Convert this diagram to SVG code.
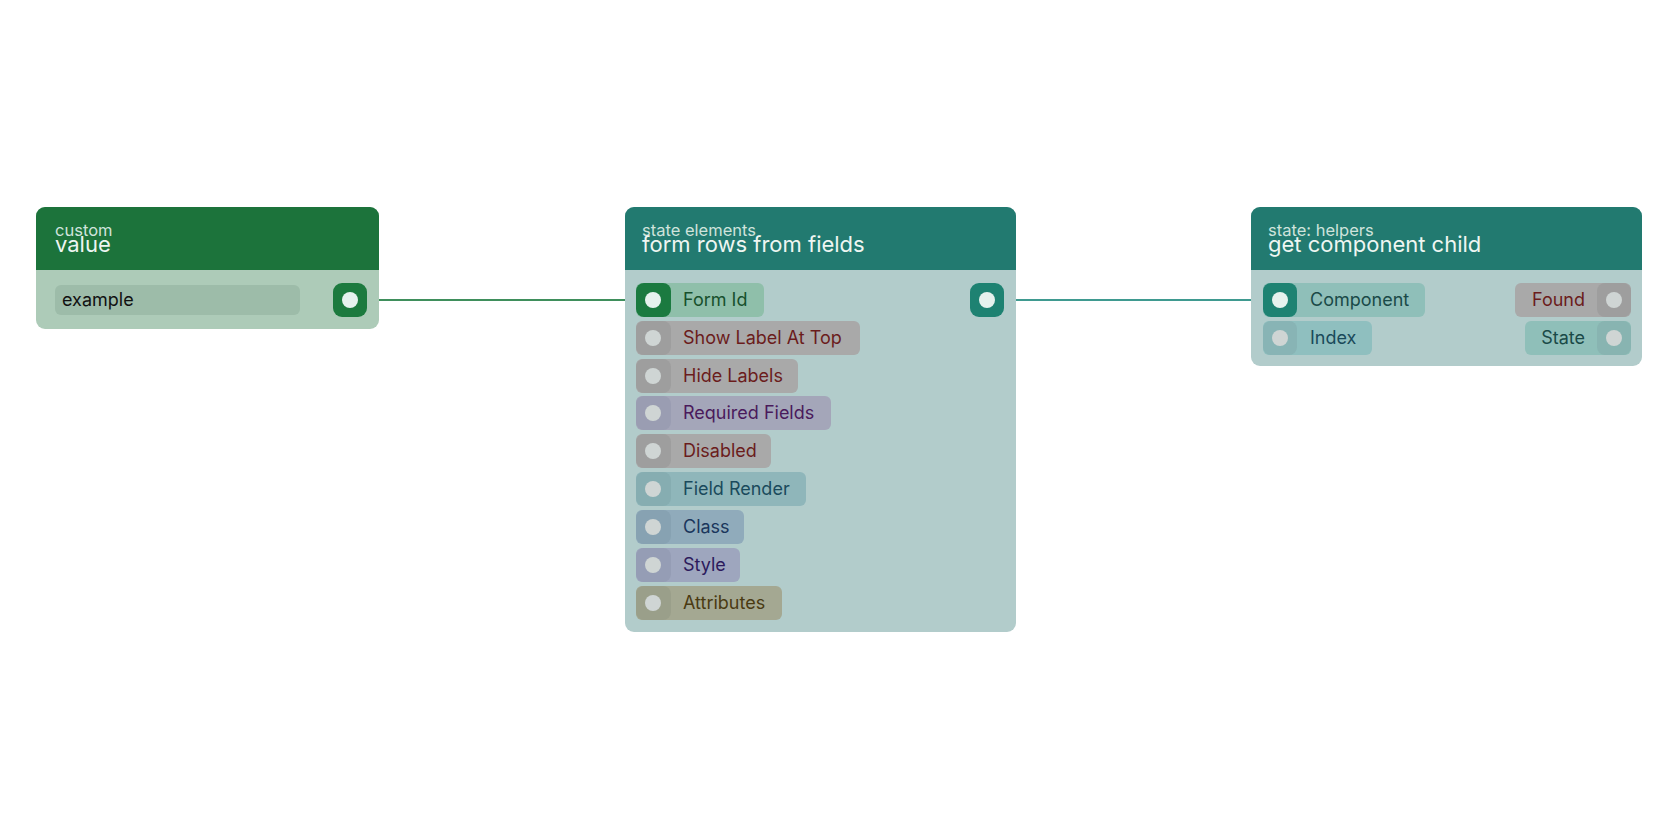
<svg xmlns="http://www.w3.org/2000/svg" width="1680" height="840" viewBox="0 0 1680 840">
<style>
text{font-family:Inter,"Noto Sans",sans-serif}
.cat{font-size:16.5px;fill:#cfe3dc}
.ttl{font-size:22px;fill:#eef6f2}
.lbl{font-size:18px}
.dot{fill:#e6f2ee}
.dim{fill:#cfd5d4}
</style>
<rect width="1680" height="840" fill="#ffffff"/>
<g id="connectors" stroke-width="2" fill="none">
<line x1="367" y1="300" x2="636" y2="300" stroke="#3f8f5c"/>
<line x1="1004" y1="300" x2="1263" y2="300" stroke="#3f9a90"/>
</g>
<g id="node-value">
<rect x="36" y="207" width="343" height="122" rx="9" fill="#adcbb8"/>
<path d="M36 270V216a9 9 0 0 1 9-9h325a9 9 0 0 1 9 9v54z" fill="#1c733b"/>
<text x="55" y="236" class="cat">custom</text>
<text x="55" y="252" class="ttl">value</text>
<rect x="55" y="285" width="245" height="30" rx="6" fill="#9dbca9"/>
<text x="62" y="306" class="lbl" fill="#111">example</text>
<rect x="333" y="283" width="34" height="34" rx="9" fill="#1c7a3e"/>
<circle cx="350" cy="300" r="8" class="dot"/>
</g>
<g id="node-form-rows">
<rect x="625" y="207" width="391" height="425" rx="9" fill="#b2cccb"/>
<path d="M625 270V216a9 9 0 0 1 9-9h373a9 9 0 0 1 9 9v54z" fill="#227a70"/>
<text x="642" y="236" class="cat">state elements</text>
<text x="642" y="252" class="ttl">form rows from fields</text>
<rect x="970" y="283" width="34" height="34" rx="9" fill="#1e8272"/>
<circle cx="987" cy="300" r="8" class="dot"/>
<rect x="636" y="283" width="128" height="34" rx="6" fill="#8fbfaa"/>
<rect x="636" y="283" width="35" height="34" rx="8" fill="#1b7a40"/>
<circle cx="653" cy="300" r="8" class="dot"/>
<text x="683" y="306" class="lbl" fill="#17502c">Form Id</text>
<rect x="636" y="321" width="224" height="34" rx="6" fill="#a9a9a9"/>
<rect x="636" y="321" width="35" height="34" rx="8" fill="#9e9e9e"/>
<circle cx="653" cy="338" r="8" class="dim"/>
<text x="683" y="344" class="lbl" fill="#6b1c1c">Show Label At Top</text>
<rect x="636" y="359" width="162" height="34" rx="6" fill="#a9a9a9"/>
<rect x="636" y="359" width="35" height="34" rx="8" fill="#9e9e9e"/>
<circle cx="653" cy="376" r="8" class="dim"/>
<text x="683" y="382" class="lbl" fill="#6b1c1c">Hide Labels</text>
<rect x="636" y="396" width="195" height="34" rx="6" fill="#a4a6b9"/>
<rect x="636" y="396" width="35" height="34" rx="8" fill="#9a9db2"/>
<circle cx="653" cy="413" r="8" class="dim"/>
<text x="683" y="419" class="lbl" fill="#4a1a5c">Required Fields</text>
<rect x="636" y="434" width="135" height="34" rx="6" fill="#a9a9a9"/>
<rect x="636" y="434" width="35" height="34" rx="8" fill="#9e9e9e"/>
<circle cx="653" cy="451" r="8" class="dim"/>
<text x="683" y="457" class="lbl" fill="#6b1c1c">Disabled</text>
<rect x="636" y="472" width="170" height="34" rx="6" fill="#8fb6ba"/>
<rect x="636" y="472" width="35" height="34" rx="8" fill="#86adb1"/>
<circle cx="653" cy="489" r="8" class="dim"/>
<text x="683" y="495" class="lbl" fill="#1a4a5c">Field Render</text>
<rect x="636" y="510" width="108" height="34" rx="6" fill="#90abbb"/>
<rect x="636" y="510" width="35" height="34" rx="8" fill="#87a2b2"/>
<circle cx="653" cy="527" r="8" class="dim"/>
<text x="683" y="533" class="lbl" fill="#1a365c">Class</text>
<rect x="636" y="548" width="104" height="34" rx="6" fill="#9ea6be"/>
<rect x="636" y="548" width="35" height="34" rx="8" fill="#959db5"/>
<circle cx="653" cy="565" r="8" class="dim"/>
<text x="683" y="571" class="lbl" fill="#2c1a5c">Style</text>
<rect x="636" y="586" width="146" height="34" rx="6" fill="#a4a892"/>
<rect x="636" y="586" width="35" height="34" rx="8" fill="#9a9f8a"/>
<circle cx="653" cy="603" r="8" class="dim"/>
<text x="683" y="609" class="lbl" fill="#4a3a12">Attributes</text>
</g>
<g id="node-get-child">
<rect x="1251" y="207" width="391" height="159" rx="9" fill="#b2cccb"/>
<path d="M1251 270V216a9 9 0 0 1 9-9h373a9 9 0 0 1 9 9v54z" fill="#227a70"/>
<text x="1268" y="236" class="cat">state: helpers</text>
<text x="1268" y="252" class="ttl">get component child</text>
<rect x="1263" y="283" width="162" height="34" rx="6" fill="#8fbfb9"/>
<rect x="1263" y="283" width="34" height="34" rx="8" fill="#1e8272"/>
<circle cx="1280" cy="300" r="8" class="dot"/>
<text x="1310" y="306" class="lbl" fill="#1a4a48">Component</text>
<rect x="1263" y="321" width="109" height="34" rx="6" fill="#8fbfbf"/>
<rect x="1263" y="321" width="34" height="34" rx="8" fill="#88b4b5"/>
<circle cx="1280" cy="338" r="8" class="dim"/>
<text x="1310" y="344" class="lbl" fill="#1a4a5a">Index</text>
<rect x="1515" y="283" width="116" height="34" rx="6" fill="#a9a9a9"/>
<rect x="1597" y="283" width="34" height="34" rx="8" fill="#9e9e9e"/>
<circle cx="1614" cy="300" r="8" class="dim"/>
<text x="1585" y="306" class="lbl" fill="#6b1c1c" text-anchor="end">Found</text>
<rect x="1525" y="321" width="106" height="34" rx="6" fill="#8fbfb9"/>
<rect x="1597" y="321" width="34" height="34" rx="8" fill="#88b4b1"/>
<circle cx="1614" cy="338" r="8" class="dim"/>
<text x="1585" y="344" class="lbl" fill="#1a4a48" text-anchor="end">State</text>
</g>
</svg>
